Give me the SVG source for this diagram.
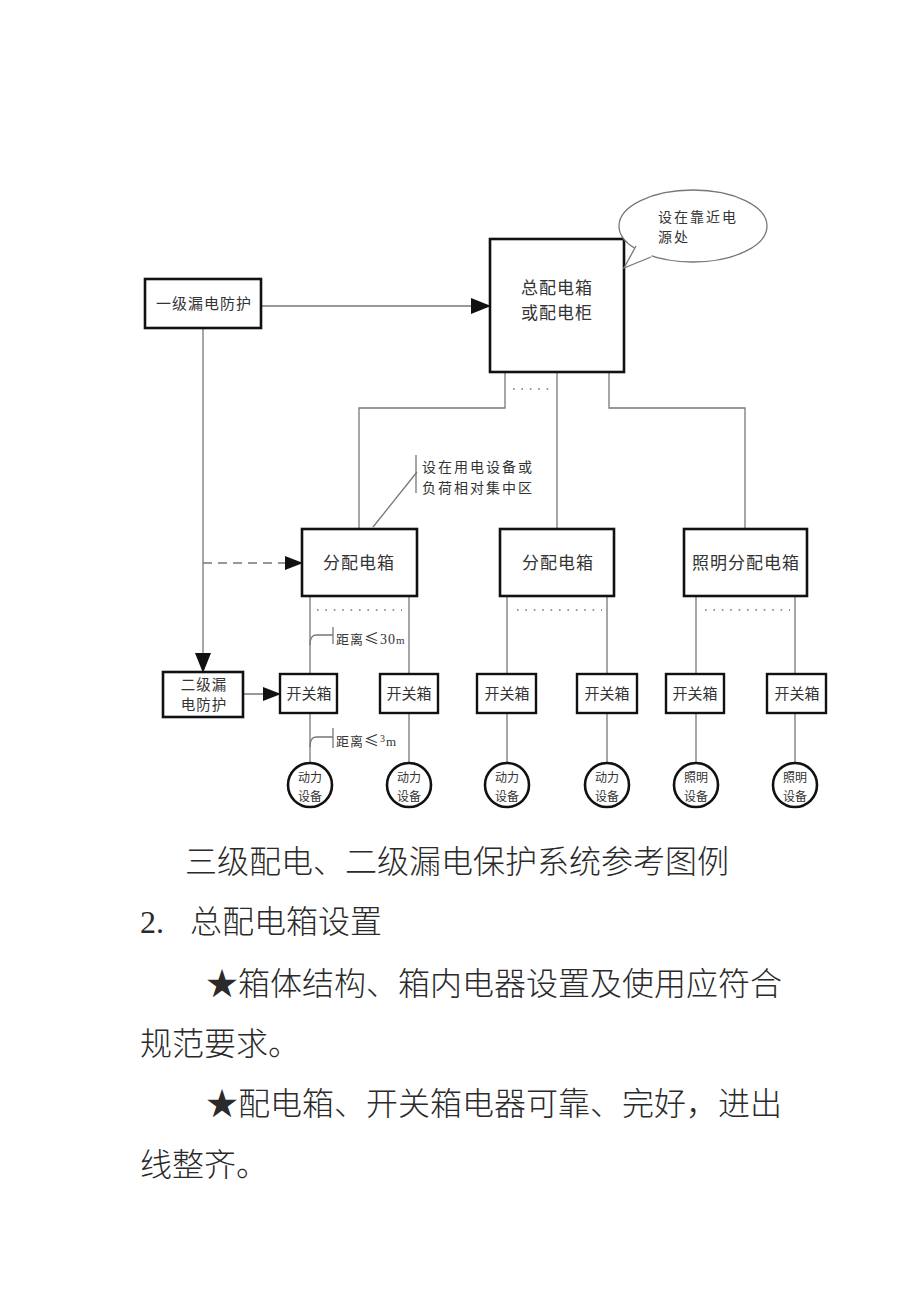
<svg xmlns="http://www.w3.org/2000/svg" width="920" height="1302" viewBox="0 0 920 1302">
<style>
.box{fill:#fff;stroke:#111;stroke-width:2.6}
.sbox{fill:#fff;stroke:#111;stroke-width:2.4}
.dev{fill:#fff;stroke:#111;stroke-width:2.6}
.ln{fill:none;stroke:#777;stroke-width:1.3}
.dot{fill:none;stroke:#777;stroke-width:1.6;stroke-dasharray:1.6 6.8}
.lbl{font-family:"Noto Sans CJK SC","Noto Sans",sans-serif;fill:#333;text-anchor:middle}
.ann{font-family:"Noto Sans CJK SC","Noto Sans",sans-serif;fill:#333}
.body{font-family:"Liberation Serif","Noto Sans CJK SC",serif;font-size:32px;fill:#2a2a2a;font-weight:300}
</style>
<defs>
<marker id="ah" markerUnits="userSpaceOnUse" markerWidth="20" markerHeight="16" refX="19" refY="8" orient="auto">
<path d="M0,0 L20,8 L0,16 Z" fill="#111"/>
</marker>
<marker id="ahs" markerUnits="userSpaceOnUse" markerWidth="18" markerHeight="14" refX="17" refY="7" orient="auto">
<path d="M0,0 L18,7 L0,14 Z" fill="#111"/>
</marker>
</defs>
<rect width="920" height="1302" fill="#fff"/>

<g id="connectors">
<line class="ln" x1="261" y1="306" x2="490" y2="306" marker-end="url(#ah)"/>
<line class="ln" x1="203" y1="328" x2="203" y2="672" marker-end="url(#ah)"/>
<line class="ln" x1="203" y1="563" x2="302" y2="563" stroke-dasharray="9 6" marker-end="url(#ahs)"/>
<line class="ln" x1="243" y1="694" x2="280" y2="694" marker-end="url(#ahs)"/>
<polyline class="ln" points="505,372 505,408 359,408 359,529"/>
<line class="ln" x1="557" y1="372" x2="557" y2="529"/>
<polyline class="ln" points="609,372 609,408 745,408 745,529"/>
<line class="dot" x1="513" y1="389" x2="550" y2="389"/>
<line class="ln" x1="310" y1="596" x2="310" y2="674"/>
<line class="ln" x1="409" y1="596" x2="409" y2="674"/>
<line class="ln" x1="507" y1="596" x2="507" y2="674"/>
<line class="ln" x1="607" y1="596" x2="607" y2="674"/>
<line class="ln" x1="696" y1="596" x2="696" y2="674"/>
<line class="ln" x1="795" y1="596" x2="795" y2="674"/>
<line class="dot" x1="317" y1="610" x2="402" y2="610"/>
<line class="dot" x1="517" y1="610" x2="602" y2="610"/>
<line class="dot" x1="705" y1="610" x2="790" y2="610"/>
<line class="ln" x1="310" y1="713" x2="310" y2="763"/>
<line class="ln" x1="409" y1="713" x2="409" y2="763"/>
<line class="ln" x1="507" y1="713" x2="507" y2="763"/>
<line class="ln" x1="607" y1="713" x2="607" y2="763"/>
<line class="ln" x1="696" y1="713" x2="696" y2="763"/>
<line class="ln" x1="795" y1="713" x2="795" y2="763"/>
</g>

<g id="n-level1">
<rect class="box" x="145" y="279" width="116" height="49" stroke-width="3"/>
<text class="lbl" x="204" y="309" font-size="15" letter-spacing="1">一级漏电防护</text>
</g>

<g id="n-main">
<rect class="box" x="490" y="239" width="134" height="133"/>
<text class="lbl" x="557" y="294" font-size="17" letter-spacing="1">总配电箱</text>
<text class="lbl" x="557" y="319" font-size="17" letter-spacing="1">或配电柜</text>
</g>

<g id="n-bubble">
<ellipse cx="693" cy="226" rx="74" ry="36" fill="#fff" stroke="#777" stroke-width="1.3"/>
<polygon points="636,245 624,268 652,256 650,252 640,243" fill="#fff"/>
<polyline class="ln" points="636,246 624,268 651,257"/>
<text class="ann" x="658" y="222" font-size="14" letter-spacing="2">设在靠近电</text>
<text class="ann" x="658" y="242" font-size="14" letter-spacing="2">源处</text>
</g>

<g id="n-note">
<line class="ln" x1="373" y1="527" x2="417" y2="472"/>
<line class="ln" x1="416" y1="455" x2="416" y2="493"/>
<text class="ann" x="422" y="472" font-size="14" letter-spacing="2">设在用电设备或</text>
<text class="ann" x="422" y="493" font-size="14" letter-spacing="2">负荷相对集中区</text>
</g>

<g id="n-dist1">
<rect class="box" x="302" y="529" width="115" height="67"/>
<text class="lbl" x="359" y="569" font-size="17" letter-spacing="1">分配电箱</text>
</g>
<g id="n-dist2">
<rect class="box" x="500" y="529" width="114" height="67"/>
<text class="lbl" x="558" y="569" font-size="17" letter-spacing="1">分配电箱</text>
</g>
<g id="n-dist3">
<rect class="box" x="684" y="529" width="123" height="67"/>
<text class="lbl" x="746" y="569" font-size="17" letter-spacing="1">照明分配电箱</text>
</g>

<g id="n-level2">
<rect class="box" x="163" y="672" width="80" height="45"/>
<text class="lbl" x="204" y="690" font-size="14.5" letter-spacing="1">二级漏</text>
<text class="lbl" x="204" y="710" font-size="14.5" letter-spacing="1">电防护</text>
</g>

<g id="n-dist-note1">
<path class="ln" d="M310,645 Q310,635 316,635 L333,635"/>
<line class="ln" x1="333" y1="627" x2="333" y2="644"/>
<text class="ann" x="336" y="644" font-size="13" letter-spacing="1">距离<tspan font-size="15">≤</tspan><tspan font-family="Liberation Serif,serif" font-size="14">30</tspan><tspan font-family="Liberation Serif,serif" font-size="11">m</tspan></text>
</g>
<g id="n-dist-note2">
<path class="ln" d="M310,747 Q310,737 316,737 L333,737"/>
<line class="ln" x1="333" y1="728" x2="333" y2="748"/>
<text class="ann" x="336" y="746" font-size="13" letter-spacing="1">距离<tspan font-size="15">≤</tspan><tspan font-family="Liberation Serif,serif" font-size="10" dy="-4">3</tspan><tspan font-family="Liberation Serif,serif" font-size="13" dy="4">m</tspan></text>
</g>

<g id="n-sw1"><rect class="sbox" x="280" y="674" width="57" height="39"/><text class="lbl" x="309" y="699" font-size="15">开关箱</text></g>
<g id="n-sw2"><rect class="sbox" x="380" y="674" width="58" height="39"/><text class="lbl" x="409" y="699" font-size="15">开关箱</text></g>
<g id="n-sw3"><rect class="sbox" x="477" y="674" width="59" height="39"/><text class="lbl" x="507" y="699" font-size="15">开关箱</text></g>
<g id="n-sw4"><rect class="sbox" x="577" y="674" width="60" height="39"/><text class="lbl" x="607" y="699" font-size="15">开关箱</text></g>
<g id="n-sw5"><rect class="sbox" x="666" y="674" width="58" height="39"/><text class="lbl" x="695" y="699" font-size="15">开关箱</text></g>
<g id="n-sw6"><rect class="sbox" x="767" y="674" width="59" height="39"/><text class="lbl" x="797" y="699" font-size="15">开关箱</text></g>

<g id="n-dev1"><circle class="dev" cx="310" cy="785" r="22"/><text class="lbl" x="310" y="782" font-size="12">动力</text><text class="lbl" x="310" y="801" font-size="12">设备</text></g>
<g id="n-dev2"><circle class="dev" cx="409" cy="785" r="22"/><text class="lbl" x="409" y="782" font-size="12">动力</text><text class="lbl" x="409" y="801" font-size="12">设备</text></g>
<g id="n-dev3"><circle class="dev" cx="507" cy="785" r="22"/><text class="lbl" x="507" y="782" font-size="12">动力</text><text class="lbl" x="507" y="801" font-size="12">设备</text></g>
<g id="n-dev4"><circle class="dev" cx="607" cy="785" r="22"/><text class="lbl" x="607" y="782" font-size="12">动力</text><text class="lbl" x="607" y="801" font-size="12">设备</text></g>
<g id="n-dev5"><circle class="dev" cx="696" cy="785" r="22"/><text class="lbl" x="696" y="782" font-size="12">照明</text><text class="lbl" x="696" y="801" font-size="12">设备</text></g>
<g id="n-dev6"><circle class="dev" cx="795" cy="785" r="22"/><text class="lbl" x="795" y="782" font-size="12">照明</text><text class="lbl" x="795" y="801" font-size="12">设备</text></g>

<g id="body-text">
<text class="body" x="185" y="873">三级配电、二级漏电保护系统参考图例</text>
<text class="body" x="140" y="933">2.</text>
<text class="body" x="190" y="933">总配电箱设置</text>
<text class="body" x="206" y="995">★箱体结构、箱内电器设置及使用应符合</text>
<text class="body" x="140" y="1055">规范要求。</text>
<text class="body" x="206" y="1115">★配电箱、开关箱电器可靠、完好，进出</text>
<text class="body" x="140" y="1176">线整齐。</text>
</g>
</svg>
